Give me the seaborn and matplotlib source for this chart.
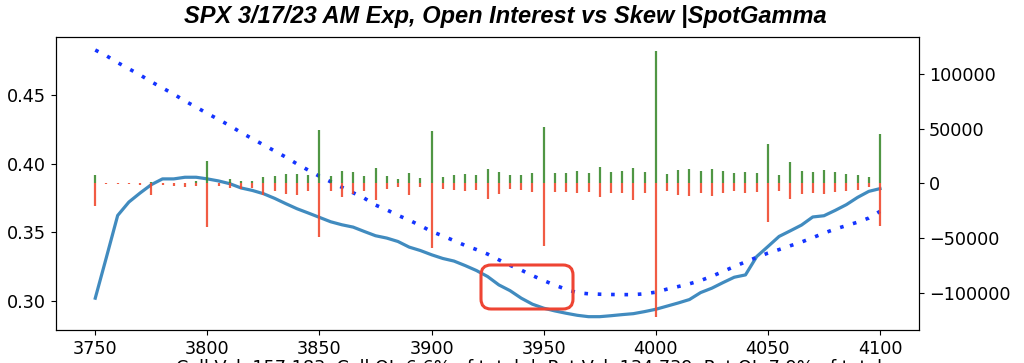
import numpy as np
import pandas as pd
import matplotlib
matplotlib.use("Agg")
import matplotlib.pyplot as plt
import seaborn as sns
from matplotlib.patches import FancyBboxPatch
from matplotlib.transforms import IdentityTransform

# === DONNEES ===

strikes = list(range(3750, 4101, 5))

skew = [0.302, 0.332, 0.3624, 0.3722, 0.3788, 0.3849, 0.3891, 0.3891, 0.3903, 0.3903,
        0.3891, 0.3876, 0.3856, 0.3825, 0.3807, 0.3783, 0.3749, 0.3710, 0.3673, 0.3642,
        0.3610, 0.3578, 0.3556, 0.3539, 0.3507, 0.3476, 0.3459, 0.3434, 0.3393, 0.3368,
        0.3337, 0.3310, 0.3291, 0.3258, 0.3222, 0.3178, 0.3117, 0.3075, 0.3020, 0.2976,
        0.2947, 0.2927, 0.2910, 0.2895, 0.2885, 0.2885, 0.2892, 0.2900, 0.2907, 0.2922,
        0.2939, 0.2962, 0.2985, 0.3010, 0.3061, 0.3093, 0.3134, 0.3173, 0.3190, 0.3324,
        0.3397, 0.3471, 0.3512, 0.3554, 0.3613, 0.3622, 0.3661, 0.3703, 0.3756, 0.3800,
        0.3820]

skew_ref = [0.4832, 0.4790, 0.4740, 0.4695, 0.4650, 0.4600, 0.4555, 0.4510, 0.4460, 0.4415,
            0.4369, 0.4325, 0.4280, 0.4230, 0.4185, 0.4140, 0.4095, 0.4050, 0.4000, 0.3955,
            0.3910, 0.3870, 0.3830, 0.3790, 0.3750, 0.3700, 0.3665, 0.3625, 0.3590, 0.3550,
            0.3507, 0.3475, 0.3440, 0.3405, 0.3375, 0.3342, 0.3300, 0.3260, 0.3225, 0.3185,
            0.3149, 0.3115, 0.3085, 0.3060, 0.3052, 0.3049, 0.3047, 0.3046, 0.3046, 0.3052,
            0.3064, 0.3086, 0.3105, 0.3125, 0.3149, 0.3180, 0.3215, 0.3251, 0.3285, 0.3318,
            0.3349, 0.3375, 0.3403, 0.3430, 0.3462, 0.3495, 0.3525, 0.3550, 0.3575, 0.3605,
            0.3654]

call_oi = [7600, 0, 500, 300, 0, 1500, 0, 0, 0, 2100,
           20700, 300, 3700, 1800, 2100, 5500, 7000, 8500, 8800, 7900,
           48800, 7000, 11300, 10400, 7000, 14000, 6700, 3700, 9800, 4900,
           48200, 6100, 7900, 8500, 7300, 12800, 10400, 7300, 7900, 9800,
           51800, 9100, 9800, 11000, 9100, 14600, 10400, 11000, 14000, 10400,
           121400, 8500, 12200, 13400, 11000, 13400, 11600, 9800, 10400, 9100,
           36000, 7900, 19500, 11600, 10400, 12200, 10400, 8500, 7900, 5800,
           44800]

put_oi = [-20700, -1000, -1000, -300, -1500, -10700, -1500, -2100, -3000, -2100,
          -39700, -2400, -4000, -4900, -4300, -11000, -6700, -9800, -10400, -7000,
          -48800, -6700, -12200, -9800, -7000, -15600, -4900, -3000, -10700, -3400,
          -59500, -4900, -6400, -7000, -6400, -14300, -9800, -5200, -5800, -8200,
          -57000, -7600, -8200, -9100, -7900, -12500, -9100, -8500, -14900, -8500,
          -122000, -7000, -10700, -11300, -9100, -11300, -8500, -6700, -8500, -7600,
          -35400, -7000, -14300, -9500, -8500, -10100, -8200, -7000, -5800, -3400,
          -38700]

x_ticks = [3750, 3800, 3850, 3900, 3950, 4000, 4050, 4100]
titre = "SPX 3/17/23 AM Exp, Open Interest vs Skew |SpotGamma"
note_bas = "Call Vol: 157,183  Call OI: 6.6% of total  |  Put Vol: 134,739  Put OI: 7.9% of total"

df = pd.DataFrame({"strike": strikes, "skew": skew, "skew_ref": skew_ref,
                   "calls": call_oi, "puts": put_oi})

# === FIGURE ===

fig = plt.figure(figsize=(10.24, 3.63), dpi=100)
ax = fig.add_axes([0.0547, 0.0909, 0.843, 0.808])

sns.lineplot(data=df, x="strike", y="skew", ax=ax, color="#1f77b4", alpha=0.85, linewidth=2.3)
sns.lineplot(data=df, x="strike", y="skew_ref", ax=ax, color="#1434ff",
             linewidth=2.6, linestyle=(0, (1, 2.7)))

# open interest : calls au-dessus, puts en dessous
ax2 = ax.twinx()
ax2.vlines(df["strike"], 0, df["calls"], color="#3d8b2f", linewidth=1.6, alpha=0.9)
ax2.vlines(df["strike"], df["puts"], 0, color="#f04a30", linewidth=1.6, alpha=0.9)
lim = max(abs(df["calls"]).max(), abs(df["puts"]).max()) * 1.1
ax2.set_ylim(-lim, lim)

ax.set_xticks(x_ticks)
ax.yaxis.set_major_formatter(matplotlib.ticker.FormatStrFormatter("%.2f"))
ax.set_xlabel("")
ax.set_ylabel("")
ax.tick_params(labelsize=12.7)
ax2.tick_params(labelsize=12.7)

fig.text(0.493, 0.985, titre, ha="center", va="top", fontsize=17,
         fontweight="bold", fontstyle="italic",
         family=["Liberation Sans Narrow", "Liberation Sans", "DejaVu Sans"])
fig.text(0.517, 0.011, note_bas, ha="center", va="top", fontsize=12.7)

# cadre rouge arrondi
cadre = FancyBboxPatch((481, 54), 92, 44, boxstyle="round,pad=0,rounding_size=10",
                       transform=IdentityTransform(), fill=False,
                       edgecolor="#ee4433", linewidth=2.2)
fig.patches.append(cadre)

fig.savefig("out.png", dpi=100)
